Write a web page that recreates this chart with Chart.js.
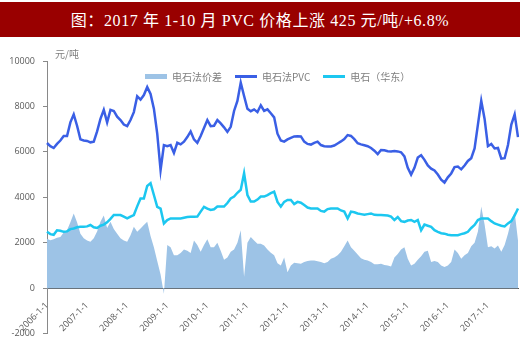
<!DOCTYPE html>
<html>
<head>
<meta charset="utf-8">
<script src="https://cdn.jsdelivr.net/npm/chart.js@4.4.0/dist/chart.umd.min.js"></script>
<style>
  body { margin: 0; background: #fff; }
  #wrap { position: relative; width: 520px; height: 338px; overflow: hidden; }
  #title { position: absolute; left: 0; top: 2px; width: 520px; height: 35px; background: #990000; color: #fff;
    font: 16px "Liberation Serif", "Noto Sans CJK SC", serif; letter-spacing: 0.6px; text-align: center;
    line-height: 38px; white-space: nowrap; }
  #unit { position: absolute; left: 55px; top: 46px; font: 10px "Noto Sans CJK SC", sans-serif; color: #7f7f7f; }
  #legend { position: absolute; left: 145px; top: 69px; display: flex; align-items: center;
    font: 10px "Noto Sans CJK SC", sans-serif; color: #7f7f7f; }
  .item { display: flex; align-items: center; margin-right: 13px; }
  .mark { width: 22px; margin-right: 5px; }
  canvas { position: absolute; left: 0; top: 0; }
</style>
</head>
<body>
<div id="wrap">
  <canvas id="chart" width="520" height="347"></canvas>
  <div id="title">图：2017 年 1-10 月 PVC 价格上涨 425 元/吨/+6.8%</div>
  <div id="unit">元/吨</div>
  <div id="legend"></div>
</div>
<script>
// monthly data, 2006-1 .. 2017-10
const years = ['2006', '2007', '2008', '2009', '2010', '2011', '2012', '2013', '2014', '2015', '2016', '2017'];

const spreadValues = [
  2180, 2110, 2150, 2220, 2250, 2450, 2550, 2900, 3290, 2900, 2400, 2200,
  2100, 2040, 2200, 2500, 2920, 3200, 2650, 2920, 2600, 2400, 2200, 2100,
  2040, 2330, 2700, 2480, 2630, 2780, 2920, 2300, 1800, 1200, 600, -250,
  1900, 1800, 1450, 1450, 1550, 1700, 1650, 1550, 2100, 1900, 1600, 1900,
  2150, 1800, 1800, 2000, 1650, 1250, 1350, 1600, 1700, 2000, 2550, 500,
  2000, 2250, 2100, 1960, 1950, 1880, 1700, 1560, 1450, 1100, 1000, 1350,
  700, 1000, 1120, 1100, 1080, 1150, 1200, 1220, 1220, 1180, 1150, 1100,
  1150, 1300, 1350, 1450, 1600, 1850, 2100, 1800, 1650, 1480, 1320, 1250,
  1220, 1150, 1050, 1050, 1080, 1020, 1000, 950, 1350, 1500, 1700, 1800,
  1300, 1000, 1080, 1250, 1400, 1600, 1650, 1150, 1200, 1150, 1000, 930,
  1000, 1150, 1700, 1550, 1300, 1450, 1550, 1850, 2000, 2500, 3600, 2800,
  1800, 1850, 1750, 1880, 1600, 1900, 2400, 3000, 3350, 2100
];

const pvcValues = [
  6390, 6250, 6170, 6350, 6500, 6700, 6700, 7300, 7650, 7150, 6550, 6500,
  6480, 6420, 6450, 6900, 7450, 7850, 7300, 7850, 7800, 7550, 7400, 7200,
  7130, 7400, 7750, 8450, 8300, 8500, 8850, 8550, 7900, 6800, 5200, 6300,
  6250, 6300, 5950, 6400, 6330, 6450, 6650, 6900, 6550, 6400, 6700, 7050,
  7400, 7130, 7150, 7400, 7250, 7080, 6880, 7100, 7800, 8240, 9050, 8460,
  7900, 7790, 7870, 7750, 8050, 7800, 7870, 7700, 7520, 6800, 6500, 6450,
  6550, 6620, 6680, 6690, 6680, 6450, 6350, 6320, 6400, 6450, 6300, 6250,
  6240, 6240, 6280, 6370, 6460, 6560, 6740, 6700, 6560, 6380, 6330, 6290,
  6250, 6170, 6050, 5900, 6080, 6070, 6030, 6020, 6040, 6020, 5980, 5800,
  5300, 5000, 5300, 5750, 5850, 5650, 5400, 5260, 5180, 5000, 4780, 4650,
  4880, 5050, 5330, 5350, 5230, 5400, 5600, 5720, 6150, 7200, 8250, 7450,
  6250, 6350, 6150, 6170, 5700, 5720, 6300, 7200, 7650, 6650
];

const carbideValues = [
  2480, 2380, 2350, 2550, 2530, 2480, 2500, 2600, 2630, 2680, 2700, 2700,
  2720, 2780, 2680, 2650, 2750, 2800, 2900, 3050, 3220, 3220, 3220, 3150,
  3070, 3150, 3220, 3600, 3950, 3950, 4500, 4620, 4100, 3580, 3500, 2850,
  3000, 3070, 3070, 3070, 3070, 3100, 3130, 3140, 3140, 3150, 3370, 3580,
  3500, 3440, 3470, 3590, 3590, 3590, 3750, 3950, 4030, 4200, 4330, 5060,
  4100, 3810, 3810, 3900, 4030, 4030, 4100, 4180, 4250, 3800, 3590, 3800,
  3880, 3880, 3700, 3800, 3760, 3660, 3550, 3510, 3510, 3510, 3400, 3370,
  3480, 3510, 3510, 3510, 3420, 3370, 3070, 3370, 3340, 3290, 3260, 3230,
  3260, 3290, 3230, 3220, 3220, 3210, 3200, 3150, 3000, 3130, 2950, 2920,
  2980, 3000, 2920, 3000, 2550, 2800, 2750, 2700, 2550, 2480, 2420, 2400,
  2350, 2330, 2330, 2330, 2380, 2420, 2480, 2650, 2780, 3000, 3070, 3070,
  3070, 2950, 2850, 2800, 2750, 2720, 2850, 2950, 3200, 3510
];

let monthLabels = [];
years.forEach(y => {
  for (let m = 1; m <= 12; m++) monthLabels.push(y + '-' + m + '-1');
});
monthLabels = monthLabels.slice(0, pvcValues.length);

const tickFont = { family: '"Open Sans", sans-serif', size: 9 };

const chart = new Chart(document.getElementById('chart'), {
  type: 'line',
  data: {
    labels: monthLabels,
    datasets: [
      { label: '电石法价差', data: spreadValues, fill: 'origin', backgroundColor: '#9dc3e6',
        borderWidth: 0, pointRadius: 0, order: 3 },
      { label: '电石法PVC', data: pvcValues, borderColor: '#3a5fe5', backgroundColor: '#3a5fe5',
        borderWidth: 2.5, pointRadius: 0, fill: false, order: 1 },
      { label: '电石（华东）', data: carbideValues, borderColor: '#1cc7f0', backgroundColor: '#1cc7f0',
        borderWidth: 2.5, pointRadius: 0, fill: false, order: 2 }
    ]
  },
  options: {
    responsive: false,
    animation: false,
    layout: { padding: { top: 61, right: 2, bottom: 6, left: 0 } },
    plugins: { legend: { display: false }, tooltip: { enabled: false } },
    scales: {
      x: {
        position: { y: 0 },
        offset: false,
        grid: { display: false, drawTicks: false },
        border: { color: '#595959', width: 1 },
        ticks: { autoSkip: false, minRotation: 45, maxRotation: 45, color: '#595959', font: tickFont, padding: 12 },
        afterBuildTicks: s => {
          s.ticks = s.ticks.filter(t => monthLabels[t.value].split('-')[1] === '1');
        }
      },
      y: {
        min: -2000, max: 10000,
        ticks: { stepSize: 2000, color: '#595959', font: tickFont, padding: 8, callback: v => String(v) },
        grid: { drawOnChartArea: false, tickLength: 4, color: '#898989' },
        border: { color: '#898989', width: 1 },
        afterFit: s => { s.width = 47; }
      }
    }
  }
});

// html legend from the datasets
const legend = document.getElementById('legend');
chart.data.datasets.forEach((ds, i) => {
  const item = document.createElement('div');
  item.className = 'item';
  const mark = document.createElement('div');
  mark.className = 'mark';
  mark.style.height = i === 0 ? '5px' : '2.5px';
  mark.style.background = i === 0 ? ds.backgroundColor : ds.borderColor;
  const txt = document.createElement('span');
  txt.textContent = ds.label;
  item.appendChild(mark);
  item.appendChild(txt);
  legend.appendChild(item);
});
</script>
</body>
</html>
